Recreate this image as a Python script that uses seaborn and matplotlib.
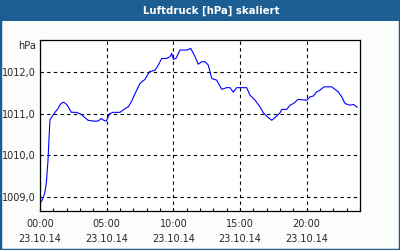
import matplotlib
matplotlib.use("Agg")
import matplotlib.pyplot as plt
from matplotlib.patches import Rectangle
import seaborn as sns
import pandas as pd

hours = [0.04, 0.15, 0.35, 0.47, 0.60, 0.68, 0.75, 0.98, 1.10, 1.35, 1.52, 1.73, 1.85, 2.05,
         2.35, 2.72, 3.10, 3.60, 3.98, 4.35, 4.60, 4.78, 4.97, 5.23, 5.48, 5.78, 6.00, 6.38,
         6.62, 6.88, 7.13, 7.50, 7.88, 8.20, 8.63, 8.87, 9.13, 9.50, 9.75, 9.88, 10.00, 10.20,
         10.50, 11.05, 11.30, 11.63, 11.87, 12.13, 12.38, 12.62, 12.88, 13.25, 13.63, 14.00,
         14.25, 14.50, 14.75, 15.50, 15.75, 16.13, 16.50, 16.75, 17.00, 17.38, 17.75, 18.00,
         18.13, 18.50, 18.75, 19.00, 19.37, 20.00, 20.25, 20.50, 20.75, 21.00, 21.30, 21.88,
         22.37, 22.63, 22.88, 23.25, 23.50, 23.80]
pressure = [1008.88, 1008.92, 1009.09, 1009.33, 1009.88, 1010.43, 1010.86, 1010.96, 1011.02,
            1011.12, 1011.22, 1011.27, 1011.26, 1011.20, 1011.03, 1011.03, 1010.98, 1010.84,
            1010.82, 1010.82, 1010.88, 1010.84, 1010.82, 1011.00, 1011.03, 1011.03, 1011.03,
            1011.12, 1011.16, 1011.30, 1011.48, 1011.72, 1011.82, 1012.00, 1012.04, 1012.16,
            1012.32, 1012.32, 1012.36, 1012.44, 1012.30, 1012.32, 1012.52, 1012.52, 1012.56,
            1012.36, 1012.18, 1012.24, 1012.24, 1012.16, 1011.84, 1011.80, 1011.58, 1011.62,
            1011.62, 1011.51, 1011.62, 1011.62, 1011.44, 1011.32, 1011.16, 1011.02, 1010.94,
            1010.84, 1010.94, 1011.02, 1011.10, 1011.10, 1011.20, 1011.24, 1011.34, 1011.32,
            1011.40, 1011.42, 1011.52, 1011.56, 1011.64, 1011.64, 1011.52, 1011.40, 1011.24,
            1011.20, 1011.22, 1011.15]
x_tick_hours = [0, 5, 10, 15, 20]
x_tick_labels = ["00:00\n23.10.14", "05:00\n23.10.14", "10:00\n23.10.14",
                 "15:00\n23.10.14", "20:00\n23.10.14"]
y_ticks = [1009.0, 1010.0, 1011.0, 1012.0]
y_tick_labels = ["1009,0", "1010,0", "1011,0", "1012,0"]
title = "Luftdruck [hPa] skaliert"
unit = "hPa"

sns.set_style("white")
plt.rcParams['font.family'] = ['DejaVu Sans']

BLUE = "#1c5e92"
fig = plt.figure(figsize=(4, 2.5), dpi=100)
fig.patch.set_facecolor("#fbfdfb")

# frame and title bar
fig.patches.append(Rectangle((0, 0), 1, 1, transform=fig.transFigure, fill=False,
                             edgecolor=BLUE, linewidth=2.5, zorder=0))
fig.patches.append(Rectangle((0, 1 - 21 / 250), 1, 21 / 250, transform=fig.transFigure,
                             facecolor=BLUE, edgecolor="none", zorder=1))
fig.text(0.528, 1 - 10.5 / 250, title, color="white", fontsize=7.3, fontweight="bold",
         ha="center", va="center")

ax = fig.add_axes([40 / 400, 39 / 250, 320 / 400, 171 / 250])
ax.set_facecolor("white")
df = pd.DataFrame({"h": hours, "p": pressure})
sns.lineplot(data=df, x="h", y="p", ax=ax, color="#0000ff", linewidth=0.8)

ax.set_xlim(0, 24)
ax.set_ylim(1008.67, 1012.76)
ax.set_xticks(x_tick_hours)
ax.set_xticklabels(x_tick_labels, fontsize=7, linespacing=1.6)
ax.set_xticks(range(0, 25), minor=True)
ax.set_yticks(y_ticks)
ax.set_yticklabels(y_tick_labels, fontsize=7)
ax.tick_params(axis="x", which="both", direction="in", length=2.5, width=0.8,
               color="black", pad=6, bottom=True)
ax.tick_params(axis="y", length=0, pad=3)
ax.set_xlabel("")
ax.set_ylabel("")
ax.grid(True, color="black", linestyle=(0, (3, 3)), linewidth=0.8)
for s in ax.spines.values():
    s.set_color("black")
    s.set_linewidth(0.9)
    s.set_visible(True)
ax.text(-0.012, 1 - 6 / 171, unit, transform=ax.transAxes, ha="right", va="center",
        fontsize=7)

fig.savefig("out.png", dpi=100)
